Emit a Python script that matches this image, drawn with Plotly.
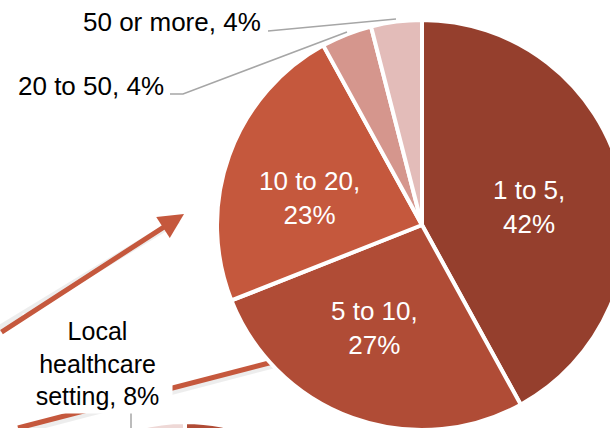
import plotly.graph_objects as go

# ---- data ----
labels = ["1 to 5", "5 to 10", "10 to 20", "20 to 50", "50 or more"]
values = [42, 27, 23, 4, 4]
colors = ["#953F2D", "#B04C36", "#C5583D", "#D5968D", "#E3BCB9"]

sub_labels = ["Other settings", "Local healthcare setting"]
sub_values = [92, 8]
sub_colors = ["#B04C36", "#EED8D6"]

# ---- canvas (larger than the window; the window shows the top-left 610x428) ----
W, H = 630, 800
def px(x):
    return x / W
def py(y):
    return 1 - y / H

FONT = "Liberation Sans, Arial, sans-serif"

fig = go.Figure()

fig.add_trace(go.Pie(
    labels=labels, values=values, sort=False, direction="clockwise", rotation=0,
    marker=dict(colors=colors, line=dict(color="white", width=4)),
    textinfo="none", hoverinfo="label+percent", showlegend=False,
    domain=dict(x=[px(217), px(627)], y=[py(430), py(20)]),
))

fig.add_trace(go.Pie(
    labels=sub_labels, values=sub_values, sort=False, direction="clockwise", rotation=0,
    marker=dict(colors=sub_colors, line=dict(color="white", width=4)),
    textinfo="none", hoverinfo="label+percent", showlegend=False,
    domain=dict(x=[0, px(370)], y=[py(792), py(422)]),
))

ann = []
# inside labels
inside_pos = {0: (529, 207), 1: (374, 328), 2: (309, 198)}
for i, (x, y) in inside_pos.items():
    ann.append(dict(x=px(x), y=py(y), xref="paper", yref="paper", showarrow=False,
                    xanchor="center", yanchor="middle",
                    text=f"{labels[i]},<br>{values[i]}%", align="center",
                    font=dict(family=FONT, size=26, color="white")))
# outside labels
ann.append(dict(x=px(263), y=py(22), xref="paper", yref="paper", showarrow=False,
                xanchor="right", yanchor="middle", text=f"{labels[4]}, {values[4]}%",
                font=dict(family=FONT, size=26, color="black")))
ann.append(dict(x=px(166), y=py(86), xref="paper", yref="paper", showarrow=False,
                xanchor="right", yanchor="middle", text=f"{labels[3]}, {values[3]}%",
                font=dict(family=FONT, size=26, color="black")))
# label of the lower pie's slice, in a white box
ann.append(dict(x=px(97), y=py(363), xref="paper", yref="paper", showarrow=False,
                xanchor="center", yanchor="middle",
                text=f"Local<br>healthcare<br>setting, {sub_values[1]}%", align="center",
                width=149, height=99, bgcolor="white", borderpad=0,
                font=dict(family=FONT, size=25, color="black")))
# arrow pointing into the main pie
ann.append(dict(x=px(184), y=py(214), xref="paper", yref="paper", text="",
                showarrow=True, ax=-192, ay=119, arrowhead=2, arrowsize=1,
                arrowwidth=5, arrowcolor="#C5583D"))

shapes = [
    # soft shadows of connector lines
    dict(type="line", xref="paper", yref="paper", x0=px(-6), y0=py(332), x1=px(178), y1=py(220),
         line=dict(color="rgba(0,0,0,0.07)", width=7), layer="below"),
    dict(type="line", xref="paper", yref="paper", x0=px(20), y0=py(431), x1=px(300), y1=py(358),
         line=dict(color="rgba(0,0,0,0.07)", width=7), layer="below"),
    # lower connector line (goes behind the box and the pie)
    dict(type="line", xref="paper", yref="paper", x0=px(18), y0=py(428), x1=px(300), y1=py(355),
         line=dict(color="#C5583D", width=5), layer="below"),
    # leader lines
    dict(type="path", xref="paper", yref="paper",
         path=f"M {px(268)},{py(31)} L {px(396)},{py(19)}",
         line=dict(color="#A6A6A6", width=1.5)),
    dict(type="path", xref="paper", yref="paper",
         path=f"M {px(170)},{py(94)} L {px(183)},{py(94)} L {px(347)},{py(32)}",
         line=dict(color="#A6A6A6", width=1.5)),
    dict(type="line", xref="paper", yref="paper", x0=px(131), y0=py(413), x1=px(131), y1=py(432),
         line=dict(color="#A6A6A6", width=1.5)),
]

fig.update_layout(
    width=W, height=H, autosize=False,
    margin=dict(l=0, r=0, t=0, b=0),
    paper_bgcolor="white", plot_bgcolor="white",
    annotations=ann, shapes=shapes,
    font=dict(family=FONT),
)

fig.write_html(
    "out.html",
    config={"displayModeBar": False},
    post_script="document.documentElement.style.overflow='hidden';"
                "document.body.style.overflow='hidden';document.body.style.margin='0';",
)
